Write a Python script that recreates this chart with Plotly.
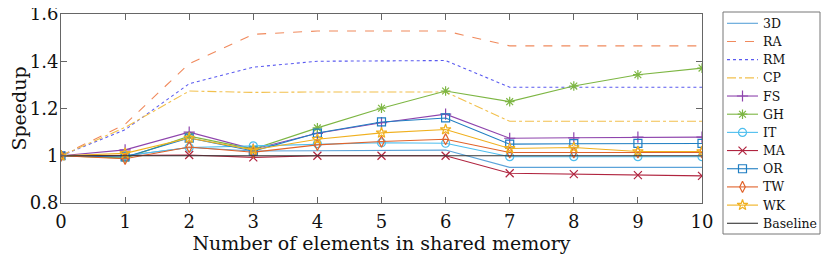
import plotly.graph_objects as go

x = list(range(11))
names = ["3D", "RA", "RM", "CP", "FS", "GH", "IT", "MA", "OR", "TW", "WK", "Baseline"]
v_3D = [1.0, 1.0, 1.035, 1.02, 1.021, 1.023, 1.024, 0.951, 0.951, 0.951, 0.951]
v_RA = [1.0, 1.133, 1.39, 1.514, 1.528, 1.528, 1.528, 1.465, 1.465, 1.465, 1.465]
v_RM = [1.0, 1.11, 1.305, 1.375, 1.40, 1.40, 1.403, 1.29, 1.29, 1.29, 1.29]
v_CP = [1.0, 1.12, 1.274, 1.268, 1.27, 1.27, 1.27, 1.146, 1.146, 1.146, 1.146]
v_FS = [1.0, 1.025, 1.10, 1.028, 1.095, 1.14, 1.176, 1.074, 1.076, 1.079, 1.079]
v_GH = [1.0, 0.99, 1.083, 1.028, 1.118, 1.201, 1.274, 1.229, 1.295, 1.343, 1.371]
v_IT = [1.0, 1.0, 1.035, 1.042, 1.051, 1.055, 1.053, 0.996, 0.996, 0.996, 0.996]
v_MA = [1.0, 1.0, 1.003, 0.993, 1.0, 1.0, 1.0, 0.926, 0.922, 0.918, 0.915]
v_OR = [1.0, 0.995, 1.075, 1.02, 1.096, 1.143, 1.16, 1.049, 1.051, 1.052, 1.052]
v_TW = [1.0, 0.987, 1.037, 1.015, 1.046, 1.06, 1.07, 1.014, 1.014, 1.014, 1.014]
v_WK = [1.0, 1.01, 1.075, 1.025, 1.07, 1.097, 1.111, 1.031, 1.035, 1.018, 1.018]
v_Base = [1.0] * 11
values = [v_3D, v_RA, v_RM, v_CP, v_FS, v_GH, v_IT, v_MA, v_OR, v_TW, v_WK, v_Base]

colors = ["#5BA3D9", "#F08A5D", "#5A5AF0", "#F2C04D", "#8E44AD", "#7DB643",
          "#4DBEEE", "#B0243F", "#1F7EC2", "#E0622A", "#F0B01E", "#333333"]
dashes = ["solid", "dash", "dot", "dashdot", "solid", "solid", "solid", "solid",
          "solid", "solid", "solid", "solid"]
symbols = [None, None, None, None, "cross-thin-open", "asterisk-open", "circle-open",
           "x-thin-open", "square-open", "diamond-tall-open", "star-open", None]

FONT = "DejaVu Serif"
OFF = 8  # default page body margin
W, H = 830 - OFF, 260 - OFF
# plot area in pixels (figure coordinates)
PL, PR, PT, PB = 61 - OFF, 702 - OFF, 14 - OFF, 203 - OFF
# legend box in pixels
LX0, LX1, LY0, LY1 = 723 - OFF, 820 - OFF, 12 - OFF, 234 - OFF
ROW0, ROWSTEP = 23.3 - OFF, 18.18
SAMPLE_X0, SAMPLE_X1, TEXT_X = 727 - OFF, 758 - OFF, 761 - OFF

fig = go.Figure()
for n, v, c, d, s in zip(names, values, colors, dashes, symbols):
    kw = dict(x=x, y=v, name=n, line=dict(color=c, width=1.1, dash=d),
              showlegend=False, xaxis="x", yaxis="y")
    if s:
        kw["mode"] = "lines+markers"
        kw["marker"] = dict(symbol=s, size=8, color=c, line=dict(color=c, width=1.2))
    else:
        kw["mode"] = "lines"
    fig.add_trace(go.Scatter(**kw))

# custom legend (pixel-space overlay axes)
annotations = []
for i, (n, c, d, s) in enumerate(zip(names, colors, dashes, symbols)):
    yc = ROW0 + i * ROWSTEP
    fig.add_trace(go.Scatter(x=[SAMPLE_X0, SAMPLE_X1], y=[yc, yc], mode="lines",
                             line=dict(color=c, width=1.1, dash=d), showlegend=False,
                             hoverinfo="skip", xaxis="x2", yaxis="y2"))
    if s:
        fig.add_trace(go.Scatter(x=[(SAMPLE_X0 + SAMPLE_X1) / 2], y=[yc], mode="markers",
                                 marker=dict(symbol=s, size=8, color=c, line=dict(color=c, width=1.2)),
                                 showlegend=False, hoverinfo="skip", xaxis="x2", yaxis="y2"))
    annotations.append(dict(x=TEXT_X, y=yc, xref="x2", yref="y2", text=n, showarrow=False,
                            xanchor="left", yanchor="middle",
                            font=dict(family=FONT, size=12.5, color="#111111")))

axis_common = dict(showline=True, linecolor="#666666", linewidth=1, mirror="ticks",
                   ticks="inside", ticklen=6, tickcolor="#666666", showgrid=False,
                   zeroline=False, automargin=False, ticklabeloverflow="allow",
                   tickfont=dict(family=FONT, size=18, color="#111111"))
fig.update_layout(
    width=W, height=H,
    margin=dict(l=0, r=0, t=0, b=0),
    paper_bgcolor="white", plot_bgcolor="rgba(0,0,0,0)",
    font=dict(family=FONT, color="#111111"),
    showlegend=False,
    xaxis=dict(domain=[PL / W, PR / W], anchor="y", range=[0, 10], dtick=1,
               ticklabelstandoff=2,
               title=dict(text="Number of elements in shared memory",
                          font=dict(family=FONT, size=19), standoff=3), **axis_common),
    yaxis=dict(domain=[1 - PB / H, 1 - PT / H], anchor="x", range=[0.8, 1.6],
               tickvals=[0.8, 1, 1.2, 1.4, 1.6],
               ticktext=["0.8", "1", "1.2", "1.4", "1.6"], ticklabelstandoff=-2,
               title=dict(text="Speedup", font=dict(family=FONT, size=19), standoff=0),
               **axis_common),
    xaxis2=dict(domain=[0, 1], range=[0, W], anchor="y2", visible=False, fixedrange=True),
    yaxis2=dict(domain=[0, 1], range=[H, 0], anchor="x2", visible=False, fixedrange=True),
    shapes=[dict(type="rect", xref="x2", yref="y2", x0=LX0, x1=LX1, y0=LY0, y1=LY1,
                 line=dict(color="#777777", width=1), fillcolor="rgba(0,0,0,0)", layer="below")],
    annotations=annotations,
)
fig.write_html("out.html")
